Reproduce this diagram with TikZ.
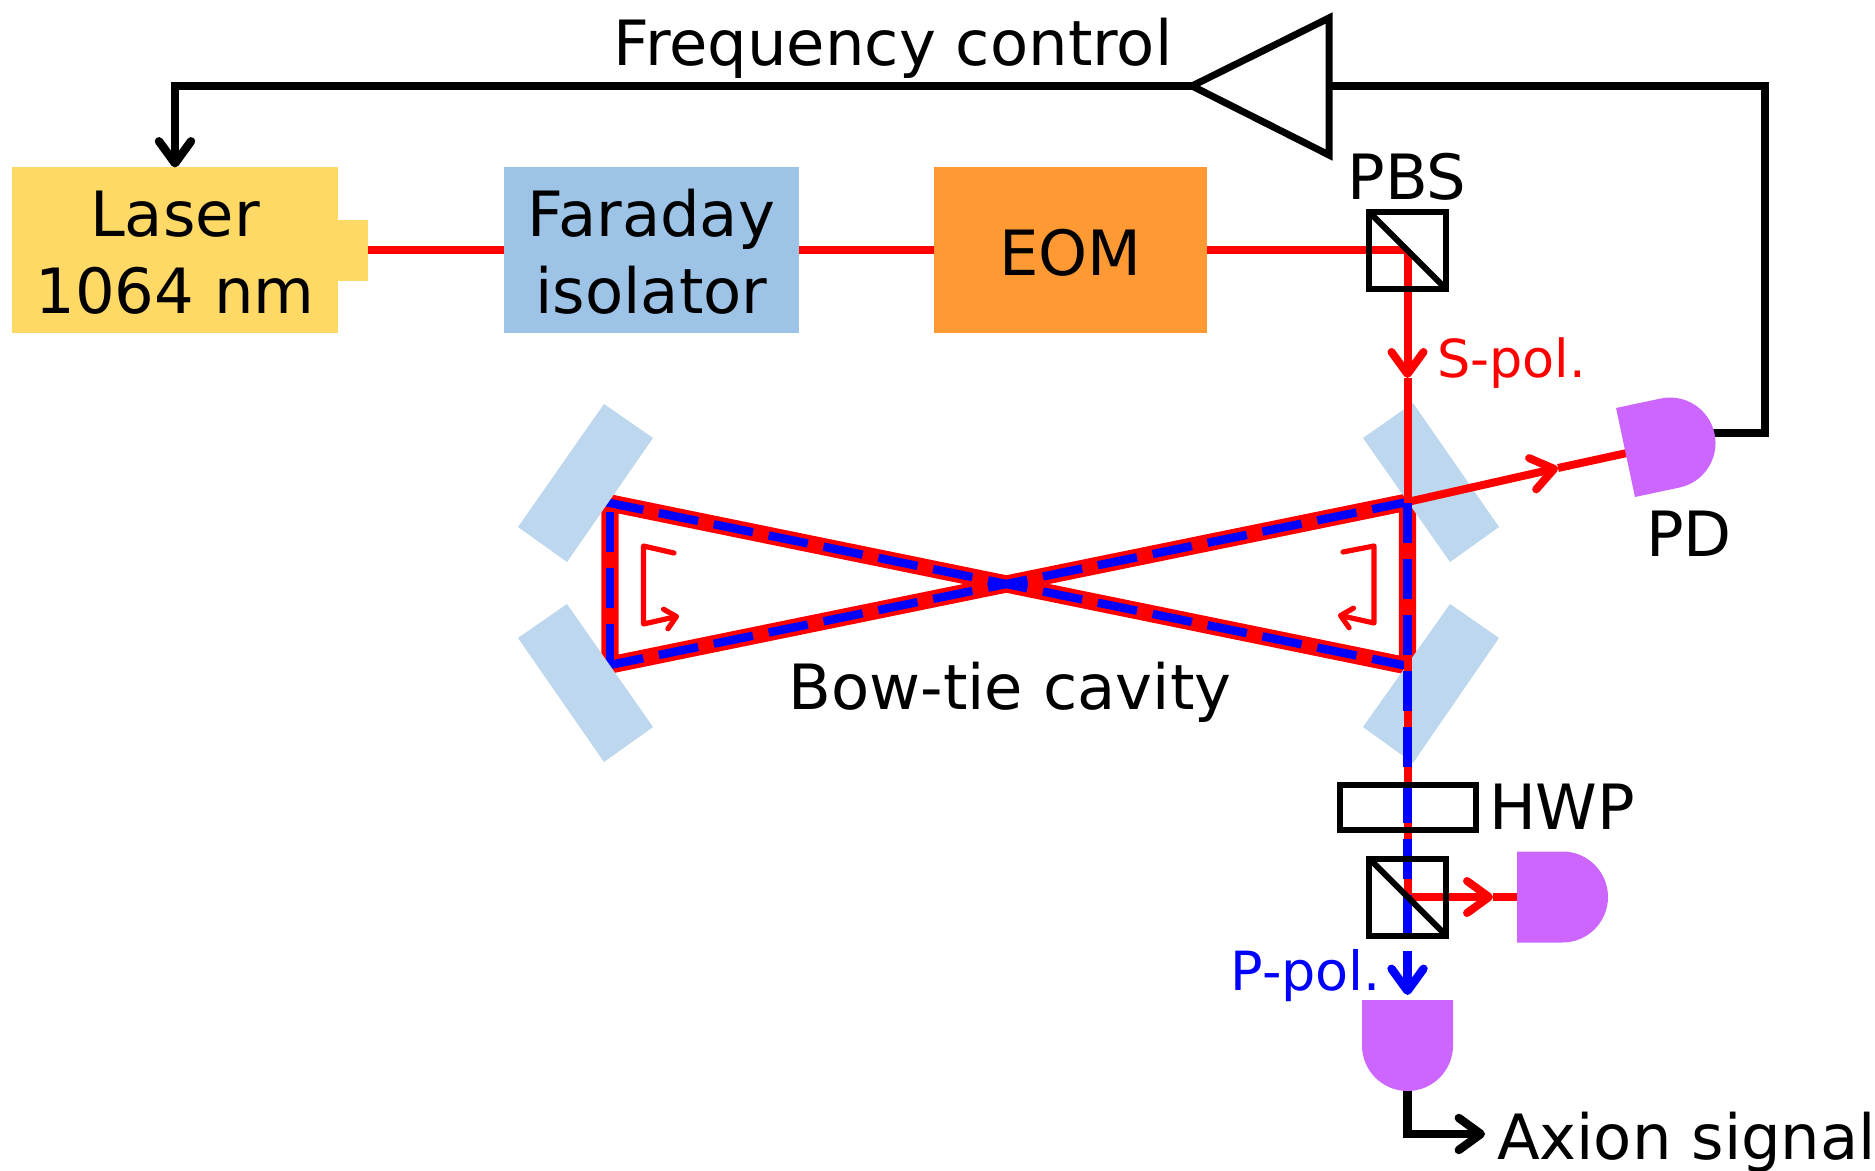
\documentclass[tikz,border=0pt]{standalone}
\usepackage{fontspec}
\setmainfont{DejaVu Sans}
\usetikzlibrary{arrows.meta}
\definecolor{cLaser}{HTML}{FFD966}
\definecolor{cFar}{HTML}{9DC3E6}
\definecolor{cEom}{HTML}{FF9933}
\definecolor{cMir}{HTML}{BDD7EE}
\definecolor{cPd}{HTML}{CC66FF}
\newcommand{\dpath}{(0,-45.5) -- (45.5,-45.5) .. controls (70.6,-45.5) and (91,-25.1) .. (91,0) .. controls (91,25.1) and (70.6,45.5) .. (45.5,45.5) -- (0,45.5) -- cycle}
\tikzset{
  x=0.5pt,y=-0.5pt,
  bigtxt/.style={font=\fontsize{31.2}{38.5}\selectfont},
  lab/.style={bigtxt,anchor=base,inner sep=0pt,outer sep=0pt},
  box/.style={bigtxt,inner sep=0pt,outer sep=0pt,align=center,minimum height=83pt},
  optic/.style={draw=black,line width=3pt,inner sep=0pt,outer sep=0pt},
  mirror/.style={fill=cMir,draw=none},
  pdfill/.style={fill=cPd,draw=none},
  beam/.style={draw=red,line width=4pt},
  band/.style={draw=red,line width=8.6pt,miter limit=10},
  pol/.style={draw=blue,line width=4.2pt,dash pattern=on 20pt off 8pt},
  wire/.style={draw=black,line width=4.2pt},
  bigarrow/.style={-{Straight Barb[length=11pt,width=16pt,round]}},
  small/.style={draw=red,line width=2.6pt,line cap=round,line join=round,-{Straight Barb[length=5.5pt,width=10pt,round]}}
}
\begin{document}
\begin{tikzpicture}
\path[use as bounding box,fill=white] (0,0) rectangle (1875,1171);

% named points
\coordinate (ampTip) at (1192,86);
\coordinate (ampTop) at (1329,18);
\coordinate (ampBot) at (1329,155);
\coordinate (ampIn) at (1329,86);
\coordinate (cA) at (1765,86);
\coordinate (cB) at (1765,433);
\coordinate (pdOut) at (1712,433);
\coordinate (LT) at (610,503);
\coordinate (LB) at (610,665);
\coordinate (RT) at (1407.5,502);
\coordinate (RB) at (1407.5,666);
\coordinate (sTip) at (1407.5,378);
\coordinate (pdTip) at (1558,468);
\coordinate (pdIn) at (1627,453);
\coordinate (rTip) at (1493,897);
\coordinate (rIn) at (1517,897);
\coordinate (pStart) at (1407.5,951);
\coordinate (pTip) at (1407.5,995);
\coordinate (pd3Out) at (1407.5,1088);
\coordinate (axTip) at (1485,1134);

% boxes
\node[box,fill=cLaser,minimum width=163pt] (laser) at (175,250.5) {\rule{0pt}{25.4pt}Laser\\1064 nm};
\node[fill=cLaser,inner sep=0pt,outer sep=0pt,minimum width=15.5pt,minimum height=30.5pt] (nozzle) at (352,250.5) {};
\node[box,fill=cFar,minimum width=147.5pt] (far) at (651.5,250.5) {\rule{0pt}{25.4pt}Faraday\\isolator};
\node[box,fill=cEom,minimum width=136.5pt] (eom) at (1070.5,250.5) {\rule{0pt}{25.1pt}EOM};

\coordinate (pbsC) at (1407.5,250.5);
\coordinate (pbs2C) at (1407.5,897);

% input beam
\draw[beam] (nozzle.east) -- (far.west);
\draw[beam] (far.east) -- (eom.west);
\draw[beam] (eom.east) -- (pbsC);

% cavity band
\draw[band] (LT) -- (RB) -- (RT) -- (LB) -- cycle;
\draw[pol] (604,501.8) -- (RB);
\draw[pol] (604,666.2) -- (RT);
\draw[pol] (610,512) -- (LB);

% mirrors
\fill[mirror] (604,404) coordinate (m1) -- (653,438) -- (567,562) -- (518,527) -- cycle;
\fill[mirror] (567,604) coordinate (m2) -- (518,638) -- (604,762) -- (653,727) -- cycle;
\fill[mirror] (1413,403) coordinate (m3) -- (1499,527) -- (1450,562) -- (1363,438) -- cycle;
\fill[mirror] (1450,604) coordinate (m4) -- (1499,638) -- (1413,763) -- (1363,727) -- cycle;

% wires
\draw[wire,bigarrow] (ampTip) -| (laser.north);
\draw[wire] (ampIn) -- (cA) -- (cB) -- (pdOut);
\draw[wire,bigarrow] (pd3Out) |- (axTip);

% beams over mirrors
\draw[beam,bigarrow] (pbsC) -- (sTip);
\draw[beam] (sTip) -- (RT);
\draw[beam,bigarrow] (RT) -- (pdTip);
\draw[beam] (pdTip) -- (pdIn);
\draw[beam] (RT) -- (pbs2C);
\draw[beam,bigarrow] (pbs2C) -- (rTip);
\draw[beam] (rTip) -- (rIn);
\draw[pol] (1407.5,503) -- (1407.5,935);
\draw[draw=blue,line width=4.2pt,bigarrow] (pStart) -- (pTip);

% detectors
\begin{scope}[shift={(1625.5,452.5)},rotate=12]
\fill[pdfill] \dpath;
\end{scope}
\begin{scope}[shift={(rIn)}]
\fill[pdfill] \dpath;
\end{scope}
\begin{scope}[shift={(1407.5,1000)},rotate=-90]
\fill[pdfill] \dpath;
\end{scope}

% amplifier
\draw[optic,line width=3.5pt,miter limit=10] (ampTop) -- (ampBot) -- (ampTip) -- cycle;

% cubes and plate
\node[optic,minimum size=38.5pt] (pbs) at (pbsC) {};
\draw[optic] (pbs.north west) -- (pbs.south east);
\node[optic,minimum size=38.5pt] (pbs2) at (pbs2C) {};
\draw[optic] (pbs2.north west) -- (pbs2.south east);
\node[optic,minimum width=68pt,minimum height=22.5pt] (hwp) at (1407.5,807) {};

% small rotation arrows
\coordinate (a1) at (674,553);
\coordinate (a2) at (643.5,546);
\coordinate (a3) at (643.5,624);
\coordinate (a4) at (679,616);
\draw[small] (a1) -- (a2) -- (a3) -- (a4);
\coordinate (b1) at (1343,552);
\coordinate (b2) at (1374,546);
\coordinate (b3) at (1374,623);
\coordinate (b4) at (1338,615);
\draw[small] (b1) -- (b2) -- (b3) -- (b4);

% labels
\node[lab] (fc) at (893,66) {Frequency control};
\node[lab] (pbsl) at (1407,200) {PBS};
\node[lab,text=red,anchor=base west,font=\fontsize{26.2}{30}\selectfont] (spol) at (1437,378) {S-pol.};
\node[lab,text=blue,anchor=base east,font=\fontsize{27}{30}\selectfont] (ppol) at (1381,990) {P-pol.};
\node[lab,anchor=base west] (hwpl) at (1489,829) {HWP};
\node[lab,anchor=base west] (ax) at (1497,1159) {Axion signal};
\node[lab,anchor=base west] (pdl) at (1646,557) {PD};
\node[lab] (bt) at (1010,709) {Bow-tie cavity};
\end{tikzpicture}
\end{document}
